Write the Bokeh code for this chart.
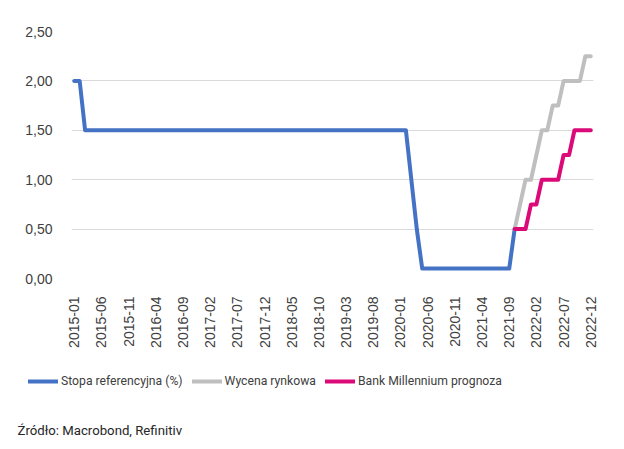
import math
import numpy as np
from bokeh.plotting import figure
from bokeh.layouts import column, row
from bokeh.models import (Range1d, FixedTicker, CustomJSTickFormatter, Legend,
                          LegendItem, Label)
from bokeh.embed import file_html
from bokeh.resources import INLINE

# ---- data ----
months = [f"{y}-{m:02d}" for y in range(2015, 2023) for m in range(1, 13)]

# Stopa referencyjna (%) : 2015-01 .. 2021-10
stopa = [
    2.0, 2.0, 1.5, 1.5, 1.5, 1.5, 1.5, 1.5, 1.5, 1.5, 1.5, 1.5,   # 2015
    1.5, 1.5, 1.5, 1.5, 1.5, 1.5, 1.5, 1.5, 1.5, 1.5, 1.5, 1.5,   # 2016
    1.5, 1.5, 1.5, 1.5, 1.5, 1.5, 1.5, 1.5, 1.5, 1.5, 1.5, 1.5,   # 2017
    1.5, 1.5, 1.5, 1.5, 1.5, 1.5, 1.5, 1.5, 1.5, 1.5, 1.5, 1.5,   # 2018
    1.5, 1.5, 1.5, 1.5, 1.5, 1.5, 1.5, 1.5, 1.5, 1.5, 1.5, 1.5,   # 2019
    1.5, 1.5, 1.0, 0.5, 0.1, 0.1, 0.1, 0.1, 0.1, 0.1, 0.1, 0.1,   # 2020
    0.1, 0.1, 0.1, 0.1, 0.1, 0.1, 0.1, 0.1, 0.1, 0.5,             # 2021-01..10
]
# Wycena rynkowa : 2021-10 .. 2022-12
wycena = [0.5, 0.75, 1.0, 1.0, 1.25, 1.5, 1.5, 1.75, 1.75, 2.0, 2.0, 2.0, 2.0, 2.25, 2.25]
# Bank Millennium prognoza : 2021-10 .. 2022-12
prognoza = [0.5, 0.5, 0.5, 0.75, 0.75, 1.0, 1.0, 1.0, 1.0, 1.25, 1.25, 1.5, 1.5, 1.5, 1.5]

tick_labels = ["2015-01", "2015-06", "2015-11", "2016-04", "2016-09", "2017-02",
               "2017-07", "2017-12", "2018-05", "2018-10", "2019-03", "2019-08",
               "2020-01", "2020-06", "2020-11", "2021-04", "2021-09", "2022-02",
               "2022-07", "2022-12"]
y_ticks = [0.0, 0.5, 1.0, 1.5, 2.0, 2.5]

series_names = ["Stopa referencyjna (%)", "Wycena rynkowa", "Bank Millennium prognoza"]
source_text = "Źródło: Macrobond, Refinitiv"

# ---- positions from categories ----
x_stopa = [months.index(m) for m in months[:len(stopa)]]
start_fc = months.index("2021-10")
x_wycena = [start_fc + i for i in range(len(wycena))]
x_prognoza = [start_fc + i for i in range(len(prognoza))]
tick_pos = [months.index(t) for t in tick_labels]

c_blue = "#4472C4"
c_gray = "#BFBFBF"
c_pink = "#DC0A78"
colors = [c_blue, c_gray, c_pink]
lw = 4

p = figure(width=624, height=352, output_backend="svg", toolbar_location=None,
           x_range=Range1d(-0.5, len(months) - 0.5), y_range=Range1d(0, 2.5),
           min_border_left=71, min_border_right=31, min_border_top=31,
           min_border_bottom=74)
p.outline_line_color = None
p.background_fill_color = "white"
p.border_fill_color = "white"

for xs, ys, col in ((x_stopa, stopa, c_blue), (x_wycena, wycena, c_gray),
                    (x_prognoza, prognoza, c_pink)):
    p.line(xs, ys, line_color=col, line_width=lw, line_cap="round", line_join="round")

# axes
p.xgrid.grid_line_color = None
p.ygrid.grid_line_color = "#D9D9D9"
p.ygrid.grid_line_width = 1
p.yaxis.ticker = FixedTicker(ticks=y_ticks)
p.yaxis.formatter = CustomJSTickFormatter(code="return tick.toFixed(2).replace('.', ',');")
p.xaxis.ticker = FixedTicker(ticks=tick_pos)
p.xaxis.major_label_overrides = {pos: lab for pos, lab in zip(tick_pos, tick_labels)}
p.xaxis.major_label_orientation = math.pi / 2

for ax in (p.xaxis, p.yaxis):
    ax.axis_line_color = None
    ax.major_tick_line_color = None
    ax.minor_tick_line_color = None
    ax.major_label_text_font = "Liberation Sans"
    ax.major_label_text_font_size = "14px"
    ax.major_label_text_color = "#404040"
p.yaxis.major_label_standoff = 13
p.xaxis.major_label_standoff = 12

# ---- legend + source strip ----
H2 = 97
p2 = figure(width=624, height=H2, output_backend="svg", toolbar_location=None,
            x_range=Range1d(0, 624), y_range=Range1d(0, H2),
            x_axis_location=None, y_axis_location=None,
            min_border=0, min_border_left=0, min_border_right=0,
            min_border_top=0, min_border_bottom=0)
p2.grid.grid_line_color = None
p2.outline_line_color = None
p2.background_fill_color = "white"
p2.border_fill_color = "white"

items = []
for name, col in zip(series_names, colors):
    rr = p2.line(x=np.array([np.nan]), y=np.array([np.nan]), line_color=col, line_width=lw,
                 line_cap="round")
    items.append(LegendItem(label=name, renderers=[rr]))

legend = Legend(items=items, location=(28, 60), orientation="horizontal",
                padding=0, margin=0, spacing=9, glyph_width=30, glyph_height=16,
                label_standoff=3, border_line_color=None, background_fill_alpha=0,
                label_text_font="Roboto", label_text_font_size="12.2px",
                label_text_color="#404040")
p2.add_layout(legend, "center")

src = Label(x=17, y=H2 - (430 - 352), text=source_text,
            text_font="Roboto", text_font_size="13.2px", text_color="#262626",
            text_baseline="middle")
p2.add_layout(src)

layout = column(p, row(p2, spacing=0), spacing=0)
open("out.html", "w").write(file_html(layout, INLINE))
